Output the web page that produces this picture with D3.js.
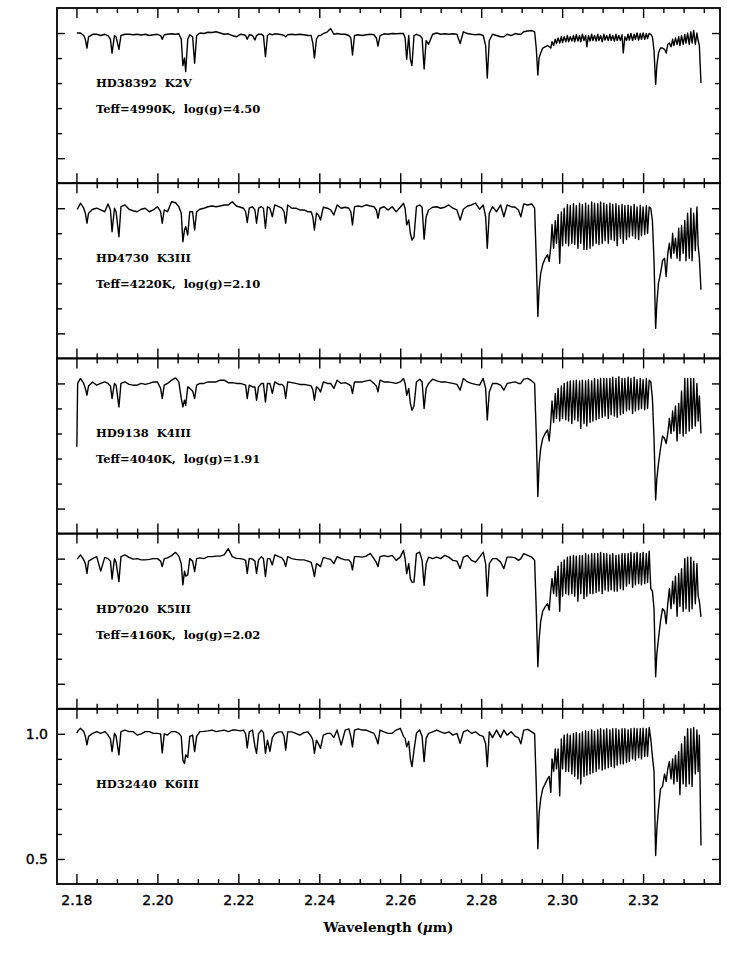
<!DOCTYPE html>
<html><head><meta charset="utf-8">
<script src="https://cdn.jsdelivr.net/npm/d3@7"></script>
<style>body{margin:0;background:#fff}</style>
</head><body>
<svg id="chart" width="733" height="972"></svg>
<script>
// Shared wavelength grid (micron)
const wavelength = [
2.1801, 2.1803, 2.1810, 2.1818, 2.1822, 2.1826, 2.1830, 2.1840, 2.1850, 2.1860, 2.1870,
2.1878, 2.1884, 2.1888, 2.1894, 2.1898, 2.1905, 2.1910, 2.1920, 2.1930, 2.1940,
2.1950, 2.1960, 2.1970, 2.1980, 2.1990, 2.2000, 2.2008, 2.2012, 2.2017, 2.2025,
2.2035, 2.2045, 2.2053, 2.2059, 2.2063, 2.2067, 2.2070, 2.2075, 2.2080, 2.2087,
2.2092, 2.2097, 2.2105, 2.2115, 2.2125, 2.2135, 2.2145, 2.2155, 2.2165, 2.2175,
2.2185, 2.2195, 2.2205, 2.2213, 2.2218, 2.2222, 2.2227, 2.2235, 2.2241, 2.2245,
2.2250, 2.2257, 2.2262, 2.2267, 2.2272, 2.2278, 2.2284, 2.2290, 2.2300, 2.2308,
2.2313, 2.2317, 2.2322, 2.2332, 2.2342, 2.2352, 2.2362, 2.2372, 2.2380, 2.2384,
2.2388, 2.2393, 2.2398, 2.2403, 2.2410, 2.2420, 2.2428, 2.2436, 2.2444, 2.2454,
2.2464, 2.2473, 2.2478, 2.2482, 2.2487, 2.2496, 2.2506, 2.2516, 2.2526, 2.2535,
2.2541, 2.2545, 2.2550, 2.2560, 2.2570, 2.2580, 2.2590, 2.2600, 2.2608, 2.2612,
2.2616, 2.2621, 2.2625, 2.2629, 2.2634, 2.2640, 2.2648, 2.2654, 2.2659, 2.2664,
2.2670, 2.2680, 2.2690, 2.2700, 2.2710, 2.2720, 2.2730, 2.2740, 2.2748, 2.2756,
2.2766, 2.2776, 2.2786, 2.2796, 2.2805, 2.2811, 2.2815, 2.2820, 2.2828, 2.2838,
2.2848, 2.2856, 2.2864, 2.2874, 2.2884, 2.2892, 2.2898, 2.2905, 2.2915, 2.2925,
2.2932, 2.2936, 2.2940, 2.2943, 2.2947, 2.2952, 2.2958, 2.2964, 2.2968, 2.2972,
2.2975, 2.2979, 2.2983, 2.2986, 2.2990, 2.2994, 2.2998, 2.3001, 2.3005, 2.3009,
2.3013, 2.3016, 2.3020, 2.3024, 2.3028, 2.3031, 2.3035, 2.3039, 2.3043, 2.3046,
2.3050, 2.3054, 2.3058, 2.3061, 2.3065, 2.3069, 2.3073, 2.3076, 2.3080, 2.3084,
2.3088, 2.3091, 2.3095, 2.3099, 2.3103, 2.3106, 2.3110, 2.3114, 2.3118, 2.3121,
2.3125, 2.3129, 2.3133, 2.3136, 2.3140, 2.3144, 2.3148, 2.3151, 2.3155, 2.3159,
2.3163, 2.3166, 2.3170, 2.3174, 2.3178, 2.3181, 2.3185, 2.3189, 2.3193, 2.3196,
2.3200, 2.3204, 2.3208, 2.3211, 2.3215, 2.3219, 2.3223, 2.3227, 2.3231, 2.3234,
2.3238, 2.3243, 2.3248, 2.3253, 2.3257, 2.3261, 2.3265, 2.3269, 2.3273, 2.3276,
2.3280, 2.3284, 2.3288, 2.3291, 2.3295, 2.3299, 2.3303, 2.3306, 2.3310, 2.3314,
2.3318, 2.3321, 2.3325, 2.3329, 2.3333, 2.3336, 2.3339, 2.3343
];

// HD38392 K2V
const fluxHD38392 = [
1.00, 1.00, 1.00, 0.99, 0.975, 0.94, 0.985, 0.995, 0.995, 0.99, 0.995,
0.99, 0.975, 0.92, 0.99, 0.985, 0.935, 0.99, 0.995, 0.995, 0.993,
0.995, 0.992, 0.995, 0.99, 0.993, 0.995, 0.99, 0.975, 0.993, 0.995,
0.997, 0.995, 0.997, 0.975, 0.87, 0.90, 0.846, 0.975, 0.993, 0.985,
0.879, 0.99, 1.0, 0.998, 1.003, 1.002, 1.005, 1.0, 0.995, 0.997,
0.99, 0.985, 0.995, 0.993, 0.99, 0.975, 0.993, 0.99, 0.972, 0.99,
0.995, 0.995, 0.99, 0.905, 0.99, 0.997, 0.993, 0.997, 0.995, 0.993,
0.99, 0.985, 0.993, 0.995, 0.993, 0.995, 0.993, 0.99, 0.99, 0.96,
0.90, 0.975, 0.99, 0.99, 0.998, 1.005, 1.018, 0.995, 0.998, 0.995,
0.995, 0.99, 0.98, 0.912, 0.99, 0.993, 0.99, 0.993, 0.995, 0.993,
0.98, 0.948, 0.99, 0.997, 0.995, 0.998, 0.997, 0.998, 0.998, 0.98,
0.895, 0.99, 0.895, 0.87, 0.99, 0.995, 0.99, 0.98, 0.856, 0.97,
0.955, 0.995, 1.0, 0.995, 0.997, 0.995, 0.997, 0.995, 0.958, 1.005,
0.998, 0.995, 0.993, 0.995, 0.99, 0.95, 0.82, 0.97, 0.995, 0.99,
0.985, 0.985, 0.995, 0.99, 0.998, 0.995, 0.995, 1.005, 1.008, 1.01,
1.005, 0.94, 0.832, 0.90, 0.92, 0.94, 0.945, 0.95, 0.945, 0.94,
0.965, 0.95, 0.975, 0.958, 0.98, 0.96, 0.985, 0.962, 0.985, 0.965,
0.99, 0.965, 0.985, 0.968, 0.99, 0.965, 0.993, 0.968, 0.99, 0.965,
0.995, 0.97, 0.99, 0.945, 0.99, 0.968, 0.995, 0.97, 0.99, 0.968,
0.995, 0.97, 0.99, 0.965, 0.995, 0.972, 0.99, 0.97, 0.995, 0.97,
0.99, 0.968, 0.995, 0.97, 0.99, 0.97, 0.993, 0.92, 0.985, 0.97,
0.995, 0.972, 0.998, 0.97, 0.995, 0.975, 1.0, 0.972, 0.998, 0.975,
1.0, 0.975, 0.998, 0.978, 0.998, 0.995, 0.985, 0.93, 0.795, 0.87,
0.92, 0.94, 0.94, 0.935, 0.92, 0.955, 0.96, 0.945, 0.975, 0.95,
0.98, 0.955, 0.985, 0.95, 0.99, 0.955, 0.995, 0.96, 1.0, 0.955,
1.005, 0.96, 1.01, 0.955, 1.0, 0.97, 0.95, 0.80
];

// HD4730 K3III
const fluxHD4730 = [
0.996, 0.998, 1.02, 1.0, 0.98, 0.94, 0.98, 0.996, 1.0, 0.993, 0.986,
1.017, 0.993, 0.906, 1.0, 0.986, 0.886, 1.006, 1.013, 0.996, 0.99,
0.986, 0.996, 1.0, 0.986, 0.993, 1.006, 0.986, 0.94, 0.993, 0.986,
1.026, 1.022, 1.006, 0.98, 0.866, 0.913, 0.926, 0.893, 0.986, 0.986,
0.913, 0.986, 0.996, 1.0, 1.006, 1.009, 1.006, 1.009, 1.013, 1.013,
1.026, 1.009, 1.004, 1.0, 0.986, 0.943, 1.0, 1.006, 0.993, 0.94,
1.0, 1.006, 1.0, 0.92, 1.006, 1.0, 0.966, 1.013, 1.006, 1.0,
0.986, 0.94, 1.013, 1.0, 1.0, 0.993, 0.993, 0.986, 0.986, 0.966,
0.913, 0.98, 0.973, 0.953, 1.004, 1.0, 0.993, 0.973, 1.013, 1.0,
1.004, 1.0, 0.986, 0.933, 1.006, 1.009, 1.006, 1.013, 1.009, 1.006,
0.993, 0.96, 1.0, 1.006, 0.993, 1.006, 0.986, 1.004, 1.02, 1.0,
0.933, 0.953, 0.9, 0.873, 0.886, 1.006, 1.013, 1.004, 0.876, 0.966,
0.993, 1.004, 1.006, 1.0, 1.004, 1.013, 1.0, 0.993, 0.953, 0.996,
1.009, 1.013, 1.02, 0.996, 1.013, 0.966, 0.84, 0.98, 1.006, 0.986,
1.013, 0.966, 1.013, 1.006, 1.004, 0.993, 0.966, 1.017, 1.013, 1.017,
1.0, 0.80, 0.567, 0.674, 0.74, 0.775, 0.80, 0.814, 0.787, 0.847,
0.935, 0.84, 0.95, 0.86, 0.975, 0.78, 0.985, 0.85, 1.0, 0.86,
1.015, 0.85, 1.01, 0.86, 1.018, 0.855, 1.01, 0.84, 1.02, 0.86,
1.015, 0.835, 1.02, 0.835, 1.012, 0.84, 1.025, 0.85, 1.02, 0.86,
1.018, 0.855, 1.025, 0.86, 1.02, 0.87, 1.015, 0.86, 1.02, 0.875,
1.015, 0.87, 1.018, 0.85, 1.01, 0.88, 1.015, 0.86, 1.01, 0.875,
1.012, 0.885, 1.008, 0.89, 1.015, 0.88, 1.005, 0.875, 1.012, 0.89,
1.005, 0.895, 1.01, 0.9, 1.005, 1.0, 0.95, 0.79, 0.52, 0.62,
0.70, 0.74, 0.79, 0.80, 0.727, 0.82, 0.86, 0.80, 0.90, 0.82,
0.88, 0.80, 0.92, 0.79, 0.93, 0.82, 0.95, 0.79, 0.98, 0.80,
1.0, 0.79, 0.98, 0.83, 1.005, 0.85, 0.80, 0.674
];

// HD9138 K4III
const fluxHD9138 = [
0.747, 1.0, 1.02, 1.0, 0.98, 0.953, 0.99, 1.006, 0.993, 1.0, 1.006,
1.0, 0.99, 0.94, 1.0, 0.993, 0.906, 1.0, 1.006, 0.996, 0.993,
0.993, 1.0, 0.996, 1.0, 1.006, 1.006, 0.98, 0.94, 0.993, 1.0,
1.013, 1.022, 1.006, 0.94, 0.906, 0.933, 0.913, 0.986, 0.98, 0.97,
0.94, 0.993, 1.0, 1.0, 1.006, 1.006, 1.006, 1.013, 1.013, 1.003,
1.003, 1.0, 1.0, 0.996, 0.993, 0.94, 0.993, 0.986, 0.986, 0.933,
0.986, 1.0, 1.0, 0.926, 1.0, 1.0, 0.96, 1.006, 0.996, 0.996,
0.986, 0.94, 1.006, 1.003, 1.0, 0.996, 0.996, 0.993, 0.99, 0.975,
0.933, 0.986, 0.98, 0.966, 1.006, 1.0, 1.0, 0.98, 1.013, 1.0,
1.003, 0.996, 0.99, 0.96, 1.006, 1.006, 1.006, 1.01, 1.013, 1.0,
0.99, 0.966, 1.013, 1.006, 1.006, 1.003, 1.0, 1.006, 1.02, 1.0,
0.953, 0.98, 0.92, 0.893, 0.91, 1.006, 1.017, 1.006, 0.9, 0.98,
1.0, 1.017, 1.01, 1.006, 1.006, 1.003, 1.0, 0.996, 0.973, 1.02,
1.006, 1.0, 0.996, 0.993, 1.02, 0.98, 0.854, 0.966, 1.0, 1.0,
0.993, 0.973, 1.0, 1.003, 1.006, 1.0, 1.0, 1.017, 1.02, 1.01,
1.0, 0.80, 0.548, 0.674, 0.74, 0.78, 0.80, 0.814, 0.77, 0.847,
0.93, 0.845, 0.96, 0.86, 0.98, 0.85, 0.99, 0.86, 1.0, 0.855,
1.006, 0.85, 1.01, 0.84, 1.01, 0.855, 1.013, 0.85, 1.01, 0.82,
1.013, 0.84, 1.01, 0.83, 1.015, 0.845, 1.01, 0.85, 1.02, 0.855,
1.015, 0.86, 1.02, 0.865, 1.02, 0.87, 1.02, 0.86, 1.02, 0.875,
1.025, 0.87, 1.02, 0.865, 1.027, 0.875, 1.02, 0.88, 1.02, 0.89,
1.025, 0.895, 1.02, 0.88, 1.025, 0.89, 1.015, 0.895, 1.02, 0.9,
1.015, 0.895, 1.02, 0.9, 1.013, 1.006, 0.94, 0.78, 0.534, 0.62,
0.68, 0.74, 0.79, 0.78, 0.76, 0.80, 0.86, 0.80, 0.89, 0.81,
0.91, 0.77, 0.92, 0.80, 0.97, 0.79, 1.02, 0.80, 1.02, 0.81,
1.02, 0.82, 1.02, 0.83, 1.0, 0.85, 0.95, 0.80
];

// HD7020 K5III
const fluxHD7020 = [
1.0, 1.0, 1.015, 0.995, 0.98, 0.941, 0.99, 1.0, 1.008, 0.95, 1.005,
1.0, 0.99, 0.918, 1.0, 0.985, 0.908, 1.008, 1.015, 1.005, 0.998,
1.0, 0.995, 0.995, 0.997, 1.0, 1.0, 0.99, 0.968, 1.0, 1.003,
1.012, 1.025, 1.01, 0.98, 0.895, 0.95, 0.93, 0.935, 1.0, 0.99,
0.948, 1.0, 1.003, 1.0, 1.008, 1.008, 1.01, 1.01, 1.015, 1.04,
1.008, 1.001, 1.0, 0.997, 0.993, 0.941, 1.001, 0.998, 0.99, 0.941,
0.995, 1.008, 1.0, 0.928, 1.0, 1.0, 0.975, 1.015, 1.008, 1.003,
0.99, 0.968, 1.008, 1.0, 0.997, 0.995, 0.995, 0.99, 0.985, 0.96,
0.928, 0.98, 0.975, 0.968, 1.005, 1.0, 0.997, 0.98, 1.008, 1.0,
0.995, 0.995, 0.985, 0.955, 1.008, 1.008, 1.006, 1.01, 1.021, 1.0,
0.985, 0.968, 1.008, 1.012, 1.008, 1.013, 0.993, 1.006, 1.033, 1.0,
0.94, 0.98, 0.92, 0.906, 0.906, 1.02, 1.026, 0.993, 0.893, 0.98,
1.006, 1.0, 1.006, 1.0, 1.013, 1.006, 0.993, 0.99, 0.96, 1.006,
1.013, 0.993, 0.986, 1.006, 1.026, 0.98, 0.85, 0.98, 1.0, 1.0,
0.986, 0.96, 1.006, 1.006, 1.003, 0.993, 1.0, 1.02, 1.013, 1.006,
0.993, 0.80, 0.568, 0.674, 0.75, 0.79, 0.807, 0.82, 0.794, 0.873,
0.92, 0.86, 0.95, 0.85, 0.97, 0.79, 0.985, 0.85, 0.995, 0.86,
1.006, 0.855, 1.01, 0.86, 1.013, 0.85, 1.01, 0.83, 1.013, 0.86,
1.013, 0.84, 1.02, 0.85, 1.015, 0.86, 1.02, 0.86, 1.02, 0.865,
1.02, 0.87, 1.025, 0.86, 1.02, 0.875, 1.02, 0.87, 1.015, 0.875,
1.02, 0.87, 1.013, 0.87, 1.015, 0.88, 1.02, 0.875, 1.02, 0.89,
1.02, 0.9, 1.025, 0.885, 1.02, 0.895, 1.025, 0.9, 1.02, 0.895,
1.025, 0.9, 1.02, 0.905, 1.03, 0.88, 0.87, 0.80, 0.528, 0.62,
0.68, 0.75, 0.80, 0.79, 0.74, 0.82, 0.88, 0.80, 0.91, 0.82,
0.93, 0.77, 0.94, 0.81, 0.96, 0.79, 1.0, 0.80, 1.006, 0.79,
1.006, 0.80, 0.99, 0.82, 0.98, 0.85, 0.83, 0.767
];

// HD32440 K6III
const fluxHD32440 = [
1.002, 1.01, 1.022, 1.009, 0.99, 0.956, 0.99, 1.002, 1.009, 1.002, 1.009,
0.995, 0.98, 0.929, 1.002, 0.99, 0.916, 1.009, 1.015, 1.009, 1.009,
0.995, 1.0, 1.009, 1.009, 1.002, 1.002, 1.0, 0.924, 1.0, 0.995,
1.009, 1.009, 1.002, 0.99, 0.895, 0.882, 0.916, 0.905, 0.99, 0.995,
0.929, 0.99, 1.009, 1.01, 1.012, 1.015, 1.009, 1.012, 1.015, 1.009,
1.015, 1.015, 1.012, 1.015, 1.0, 0.944, 1.008, 1.015, 0.95, 0.922,
1.0, 1.015, 1.005, 0.922, 0.975, 0.93, 0.985, 1.0, 1.008, 1.008,
0.99, 0.935, 1.008, 1.008, 1.002, 0.995, 1.005, 1.008, 0.99, 0.975,
0.922, 0.975, 0.96, 0.942, 0.995, 1.002, 1.002, 0.985, 1.015, 0.955,
1.015, 1.02, 0.99, 0.948, 1.015, 1.02, 1.015, 1.015, 1.008, 1.002,
0.98, 0.96, 1.015, 1.008, 1.002, 1.002, 1.015, 1.022, 0.99, 0.982,
0.948, 0.97, 0.9, 0.869, 0.935, 1.002, 1.015, 0.99, 0.889, 0.982,
1.002, 1.008, 1.015, 1.008, 1.002, 1.008, 0.995, 1.002, 0.962, 1.008,
1.015, 1.002, 1.008, 0.995, 0.99, 0.96, 0.869, 1.008, 0.985, 1.015,
0.985, 1.015, 0.995, 1.008, 0.99, 0.985, 0.96, 1.015, 1.018, 1.008,
1.0, 0.80, 0.541, 0.68, 0.74, 0.78, 0.80, 0.82, 0.83, 0.766,
0.90, 0.85, 0.94, 0.86, 0.94, 0.752, 0.98, 0.86, 0.995, 0.85,
1.0, 0.85, 0.995, 0.84, 1.002, 0.83, 1.005, 0.82, 1.002, 0.80,
1.008, 0.83, 1.012, 0.835, 1.01, 0.84, 1.015, 0.845, 1.01, 0.85,
1.015, 0.86, 1.02, 0.855, 1.015, 0.86, 1.02, 0.865, 1.015, 0.87,
1.02, 0.865, 1.02, 0.875, 1.015, 0.88, 1.02, 0.88, 1.02, 0.885,
1.015, 0.89, 1.02, 0.9, 1.022, 0.895, 1.02, 0.905, 1.02, 0.9,
1.022, 0.91, 1.02, 0.91, 1.025, 0.98, 0.91, 0.85, 0.514, 0.62,
0.70, 0.78, 0.79, 0.84, 0.81, 0.86, 0.89, 0.82, 0.90, 0.80,
0.915, 0.81, 0.93, 0.757, 0.96, 0.80, 0.99, 0.79, 1.02, 0.80,
1.02, 0.79, 1.025, 0.84, 1.015, 0.85, 0.995, 0.554
];

const starNames = ["HD38392\u00a0\u00a0K2V", "HD4730\u00a0\u00a0K3III", "HD9138\u00a0\u00a0K4III", "HD7020\u00a0\u00a0K5III", "HD32440\u00a0\u00a0K6III"];
const starParams = ["Teff=4990K,\u00a0\u00a0log(g)=4.50", "Teff=4220K,\u00a0\u00a0log(g)=2.10", "Teff=4040K,\u00a0\u00a0log(g)=1.91", "Teff=4160K,\u00a0\u00a0log(g)=2.02", ""];
const xTickLabels = ["2.18", "2.20", "2.22", "2.24", "2.26", "2.28", "2.30", "2.32"];
const yTickLabels = ["0.5", "1.0"];
const yMinorTicks = [0.6, 0.7, 0.8, 0.9];

const fluxes = [fluxHD38392, fluxHD4730, fluxHD9138, fluxHD7020, fluxHD32440];

const svg = d3.select("#chart");
svg.append("rect").attr("width", 733).attr("height", 972).attr("fill", "#fff");

const left = 57, right = 720, top0 = 8, panelH = 175.2;
const x = d3.scaleLinear().domain([2.1752, 2.3390]).range([left, right]);
const majorX = xTickLabels.map(Number);
const minorX = d3.range(0, 32).map(i => +(2.18 + i * 0.005).toFixed(3))
  .filter(v => !majorX.some(m => Math.abs(m - v) < 1e-6));
const majorY = yTickLabels.map(Number);

function styleAxis(g) {
  g.select(".domain").remove();
  g.selectAll(".tick line").attr("stroke", "#000").attr("stroke-width", 1.4);
  g.selectAll(".tick text").attr("fill", "#000").attr("stroke", "#000").attr("stroke-width", 0.35)
    .style("font-family", "'DejaVu Sans', sans-serif").style("font-size", "14px");
}

fluxes.forEach((flux, i) => {
  const top = top0 + i * panelH, bottom = top + panelH;
  const y = d3.scaleLinear().domain([0.4, 1.1]).range([bottom, top]);
  const g = svg.append("g");
  const isLast = i === fluxes.length - 1;

  g.append("g").attr("transform", `translate(0,${bottom})`)
    .call(d3.axisBottom(x).tickValues(majorX).tickSize(-10).tickPadding(11)
      .tickFormat(isLast ? (d, k) => xTickLabels[k] : () => ""))
    .call(styleAxis);
  g.append("g").attr("transform", `translate(0,${bottom})`)
    .call(d3.axisBottom(x).tickValues(minorX).tickSize(-5).tickFormat(() => ""))
    .call(styleAxis);
  g.append("g").attr("transform", `translate(0,${top})`)
    .call(d3.axisTop(x).tickValues(majorX).tickSize(-10).tickFormat(() => ""))
    .call(styleAxis);
  g.append("g").attr("transform", `translate(0,${top})`)
    .call(d3.axisTop(x).tickValues(minorX).tickSize(-5).tickFormat(() => ""))
    .call(styleAxis);
  g.append("g").attr("transform", `translate(${left},0)`)
    .call(d3.axisLeft(y).tickValues(majorY).tickSize(-8).tickPadding(9)
      .tickFormat(isLast ? (d, k) => yTickLabels[k] : () => ""))
    .call(styleAxis);
  g.append("g").attr("transform", `translate(${left},0)`)
    .call(d3.axisLeft(y).tickValues(yMinorTicks).tickSize(-5).tickFormat(() => ""))
    .call(styleAxis);
  g.append("g").attr("transform", `translate(${right},0)`)
    .call(d3.axisRight(y).tickValues(majorY).tickSize(-8).tickFormat(() => ""))
    .call(styleAxis);
  g.append("g").attr("transform", `translate(${right},0)`)
    .call(d3.axisRight(y).tickValues(yMinorTicks).tickSize(-5).tickFormat(() => ""))
    .call(styleAxis);

  g.append("rect").attr("x", left).attr("y", top).attr("width", right - left).attr("height", panelH)
    .attr("fill", "none").attr("stroke", "#000").attr("stroke-width", 1.8);

  const n = Math.min(flux.length, wavelength.length);
  const line = d3.line().x((d, j) => x(wavelength[j])).y(d => y(d));
  g.append("path").datum(flux.slice(0, n)).attr("d", line)
    .attr("fill", "none").attr("stroke", "#000").attr("stroke-width", 1.4)
    .attr("stroke-linejoin", "round");

  const txt = g.append("g").style("font-family", "'DejaVu Serif', serif")
    .style("font-size", "11.5px").style("font-weight", "bold");
  txt.append("text").attr("x", 96).attr("y", top + 79).text(starNames[i]);
  if (starParams[i]) txt.append("text").attr("x", 96).attr("y", top + 105).text(starParams[i]);
});

const title = svg.append("text").attr("x", 388.5).attr("y", 932).attr("text-anchor", "middle")
  .style("font-family", "'DejaVu Serif', serif").style("font-size", "13.5px").style("font-weight", "bold");
title.append("tspan").text("Wavelength (");
title.append("tspan").style("font-style", "italic").text("\u03bc");
title.append("tspan").text("m)");
</script>
</body></html>
